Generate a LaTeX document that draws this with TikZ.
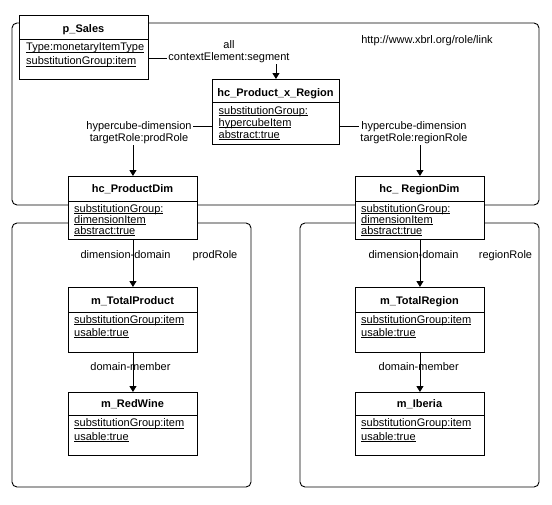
\documentclass[tikz,border=0pt]{standalone}
\usepackage{fontspec}
\setmainfont{Liberation Sans}
\usetikzlibrary{arrows.meta,calc}
\newcommand\ulx[1]{\underline{\vphantom{A}\smash{#1}}}
\newcommand\classbox[7]{% name, x1, y1, x2, y2, divider y, title baseline
  \node[umlbox, minimum width={#4-#2}, minimum height={#5-#3}] (#1) at (#2,#3) {};
  \draw[conn] (#2,#6) -- (#4,#6);
}
\begin{document}
\begin{tikzpicture}[x=1pt,y=-1pt,
  frame/.style={draw, line width=0.9pt, rounded corners=5pt},
  umlbox/.style={draw, fill=white, line width=0.9pt, inner sep=0pt, anchor=north west},
  ttl/.style={font=\fontsize{11}{13}\selectfont\bfseries, inner sep=0pt, anchor=base},
  attr/.style={font=\fontsize{11}{12}\selectfont, inner sep=0pt, anchor=base west},
  lbl/.style={font=\fontsize{11}{12}\selectfont, fill=white, inner sep=1.5pt, align=center},
  txt/.style={font=\fontsize{11}{12}\selectfont, inner sep=0pt, anchor=base},
  conn/.style={line width=0.9pt},
  arr/.style={conn, -{Triangle[width=7pt,length=6pt]}}]
\useasboundingbox (0,0) rectangle (552,504);
% frames
\draw[frame] (12,23) rectangle (539,205);
\draw[frame] (12,223) rectangle (251,487);
\draw[frame] (300,223) rectangle (539,487);
\node[txt] (role) at (427,43.3) {http://www.xbrl.org/role/link};
% boxes
\classbox{psales}{19}{15}{148}{79}{39}{}
\node[ttl] (psalesT) at (83.5,32.3) {p\_Sales};
\node[attr] (psalesA) at (26,50.5) {\ulx{Type:monetaryItemType}};
\node[attr] (psalesB) at (26,64.5) {\ulx{substitutionGroup:item}};

\classbox{hcx}{212}{79}{339}{144}{102}{}
\node[ttl] (hcxT) at (275.5,96.7) {hc\_Product\_x\_Region};
\node[attr] (hcxA) at (218.5,114) {\ulx{substitutionGroup:}};
\node[attr] (hcxB) at (218.5,126) {\ulx{hypercubeItem}};
\node[attr] (hcxC) at (218.5,138) {\ulx{abstract:true}};

\classbox{pdim}{68}{176}{197}{239}{201}{}
\node[ttl] (pdimT) at (132.5,192.3) {hc\_ProductDim};
\node[attr] (pdimA) at (74,212) {\ulx{substitutionGroup:}};
\node[attr] (pdimB) at (74,223) {\ulx{dimensionItem}};
\node[attr] (pdimC) at (74,234) {\ulx{abstract:true}};

\classbox{rdim}{355}{176}{484}{239}{201}{}
\node[ttl] (rdimT) at (419.5,192.3) {hc\_ RegionDim};
\node[attr] (rdimA) at (361,212) {\ulx{substitutionGroup:}};
\node[attr] (rdimB) at (361,223) {\ulx{dimensionItem}};
\node[attr] (rdimC) at (361,234) {\ulx{abstract:true}};

\classbox{mtp}{68}{287}{197}{352}{312}{}
\node[ttl] (mtpT) at (132.5,304) {m\_TotalProduct};
\node[attr] (mtpA) at (74,323) {\ulx{substitutionGroup:item}};
\node[attr] (mtpB) at (74,336) {\ulx{usable:true}};

\classbox{mrw}{68}{392}{197}{455}{415}{}
\node[ttl] (mrwT) at (132.5,407.7) {m\_RedWine};
\node[attr] (mrwA) at (74,426.5) {\ulx{substitutionGroup:item}};
\node[attr] (mrwB) at (74,440) {\ulx{usable:true}};

\classbox{mtr}{355}{287}{484}{352}{312}{}
\node[ttl] (mtrT) at (419.5,304) {m\_TotalRegion};
\node[attr] (mtrA) at (361,323) {\ulx{substitutionGroup:item}};
\node[attr] (mtrB) at (361,336) {\ulx{usable:true}};

\classbox{mib}{355}{392}{484}{455}{415}{}
\node[ttl] (mibT) at (419.5,407.7) {m\_Iberia};
\node[attr] (mibA) at (361,426.5) {\ulx{substitutionGroup:item}};
\node[attr] (mibB) at (361,440) {\ulx{usable:true}};

% connectors
\draw[arr] ($(psales.north east)+(0,43)$) -| (hcx.north);
\node[lbl] (l1) at (229,51.5) {all\\contextElement:segment};
\draw[arr] ($(hcx.north west)+(0,47)$) -| (pdim.north);
\node[lbl] (l2) at (139,132.2) {hypercube-dimension\\targetRole:prodRole};
\draw[arr] ($(hcx.north east)+(0,47)$) -| (rdim.north);
\node[lbl] (l3) at (414,132.2) {hypercube-dimension\\targetRole:regionRole};

\draw[arr] (pdim.south) -- (mtp.north);
\node[txt] (l4) at (125.5,258.3) {dimension-domain};
\node[txt] (l5) at (215,258.3) {prodRole};
\draw[arr] (mtp.south) -- (mrw.north);
\node[txt] (l6) at (130.5,370.7) {domain-member};

\draw[arr] (rdim.south) -- (mtr.north);
\node[txt] (l7) at (413.5,258.3) {dimension-domain};
\node[txt] (l8) at (505.5,258.3) {regionRole};
\draw[arr] (mtr.south) -- (mib.north);
\node[txt] (l9) at (418.7,370.7) {domain-member};
\end{tikzpicture}
\end{document}
